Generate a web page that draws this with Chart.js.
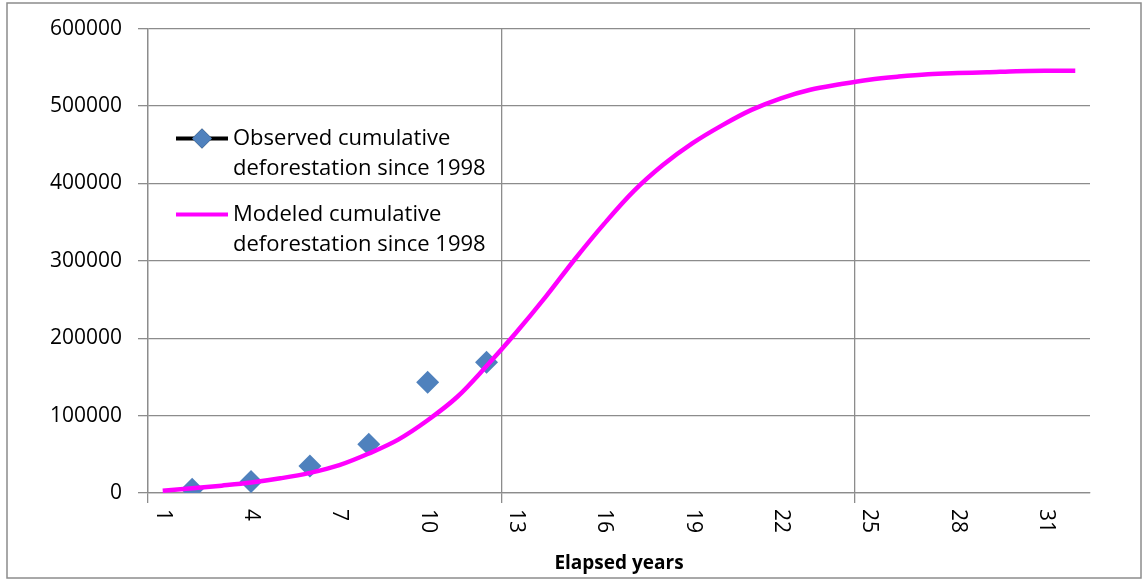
<!DOCTYPE html>
<html>
<head>
<meta charset="utf-8">
<script src="https://cdn.jsdelivr.net/npm/chart.js@4.4.1/dist/chart.umd.min.js"></script>
<style>
  html, body { margin: 0; padding: 0; background: #fff; }
  #wrap { width: 1143px; height: 581px; position: relative; }
</style>
</head>
<body>
<div id="wrap"><canvas id="myChart"></canvas></div>
<script>
// Años transcurridos (categorías del eje X)
const years = ['1', '2', '3', '4', '5', '6', '7', '8', '9', '10', '11', '12', '13', '14', '15', '16',
               '17', '18', '19', '20', '21', '22', '23', '24', '25', '26', '27', '28', '29', '30', '31', '32'];

// Deforestación acumulada observada (solo años pares)
const observed = [null, 5000, null, 15000, null, 35000, null, 63000, null, 143000, null, 169000,
                  null, null, null, null, null, null, null, null, null, null, null, null,
                  null, null, null, null, null, null, null, null];

// Deforestación acumulada modelada
const modeled = [3000, 6000, 9500, 13500, 19000, 26000, 36000, 51000, 69000, 94000, 124000, 164000,
                 207000, 253000, 302000, 348000, 390000, 424000, 452000, 475000, 495000, 510000, 521000, 528000,
                 534000, 538000, 541000, 542500, 543500, 545000, 545500, 545500];

// Textos de la leyenda y del eje
const observedLabel = ['Observed cumulative', 'deforestation since 1998'];
const modeledLabel = ['Modeled cumulative', 'deforestation since 1998'];
const xTitle = 'Elapsed years';

const gridGray = '#8c8c8c';
const fontFamily = "'Open Sans', sans-serif";

// Marco blanco con borde gris alrededor del gráfico
const framePlugin = {
    id: 'frame',
    beforeDraw(chart) {
        const ctx = chart.ctx;
        ctx.save();
        ctx.fillStyle = '#fff';
        ctx.fillRect(0, 0, chart.width, chart.height);
        ctx.strokeStyle = gridGray;
        ctx.lineWidth = 1.5;
        ctx.strokeRect(7, 3, chart.width - 9, chart.height - 6);
        ctx.restore();
    }
};

// Etiquetas del eje X giradas en sentido horario (cada 3 años)
const xLabelsPlugin = {
    id: 'xLabels',
    afterDraw(chart) {
        const ctx = chart.ctx;
        const scale = chart.scales.x;
        ctx.save();
        ctx.font = '21px ' + fontFamily;
        ctx.fillStyle = '#000';
        ctx.textAlign = 'left';
        ctx.textBaseline = 'middle';
        years.forEach((label, i) => {
            if (i % 3 !== 0) return;
            const x = scale.getPixelForTick(i);
            ctx.save();
            ctx.translate(x, chart.chartArea.bottom + 16);
            ctx.rotate(Math.PI / 2);
            ctx.fillText(label, 0, 0);
            ctx.restore();
        });
        ctx.restore();
    }
};

// Leyenda dentro del área del gráfico, con textos de dos líneas
const legendPlugin = {
    id: 'innerLegend',
    afterDraw(chart) {
        const ctx = chart.ctx;
        const area = chart.chartArea;
        const items = [
            { ds: chart.data.datasets[0], text: observedLabel },
            { ds: chart.data.datasets[1], text: modeledLabel }
        ];
        const x0 = area.left + 28;
        let y = area.top + 110;
        ctx.save();
        ctx.font = '22px ' + fontFamily;
        ctx.textBaseline = 'middle';
        ctx.textAlign = 'left';
        items.forEach(item => {
            ctx.strokeStyle = item.ds.borderColor;
            ctx.lineWidth = 4;
            ctx.beginPath();
            ctx.moveTo(x0, y);
            ctx.lineTo(x0 + 52, y);
            ctx.stroke();
            if (item.ds.pointRadius > 0) {
                Chart.helpers.drawPoint(ctx, {
                    pointStyle: 'rectRot',
                    radius: 10,
                    borderWidth: 0
                }, x0 + 26, y);
                ctx.fillStyle = item.ds.pointBackgroundColor;
                ctx.fill();
            }
            ctx.fillStyle = '#000';
            item.text.forEach((line, j) => {
                ctx.fillText(line, x0 + 57, y + j * 30);
            });
            y += 76;
        });
        ctx.restore();
    }
};

const ctx = document.getElementById('myChart').getContext('2d');

new Chart(ctx, {
    type: 'line',
    data: {
        labels: years,
        datasets: [{
            label: observedLabel.join(' '),
            data: observed,
            borderColor: '#000',
            borderWidth: 4,
            pointStyle: 'rectRot',
            pointRadius: 11.5,
            pointBackgroundColor: '#4f81bd',
            pointBorderColor: '#4f81bd',
            pointBorderWidth: 0,
            spanGaps: false,
            order: 1
        }, {
            label: modeledLabel.join(' '),
            data: modeled,
            borderColor: '#ff00ff',
            borderWidth: 4.5,
            pointRadius: 0,
            tension: 0.35,
            order: 0
        }]
    },
    options: {
        responsive: true,
        maintainAspectRatio: false,
        animation: false,
        layout: {
            padding: { top: 27, right: 53, left: 0, bottom: 0 }
        },
        plugins: {
            legend: { display: false },
            tooltip: { enabled: false }
        },
        scales: {
            x: {
                type: 'category',
                offset: true,
                afterFit(scale) { scale.height = 88; },
                grid: {
                    offset: true,
                    color: c => (c.index % 12 === 0 ? gridGray : 'rgba(0,0,0,0)'),
                    lineWidth: 1.3,
                    tickLength: 10,
                    drawTicks: true
                },
                border: { color: gridGray, width: 1.3 },
                ticks: { display: false },
                title: {
                    display: true,
                    text: xTitle,
                    color: '#000',
                    font: { family: fontFamily, size: 19, weight: 'bold' },
                    padding: { top: 0, bottom: 6 }
                }
            },
            y: {
                min: 0,
                max: 600000,
                afterFit(scale) { scale.width = 148; },
                grid: {
                    color: gridGray,
                    lineWidth: 1.3,
                    tickLength: 10
                },
                border: { color: gridGray, width: 1.3 },
                ticks: {
                    stepSize: 100000,
                    padding: 16,
                    color: '#000',
                    font: { family: fontFamily, size: 21 },
                    callback: v => String(v)
                }
            }
        }
    },
    plugins: [framePlugin, xLabelsPlugin, legendPlugin]
});
</script>
</body>
</html>
